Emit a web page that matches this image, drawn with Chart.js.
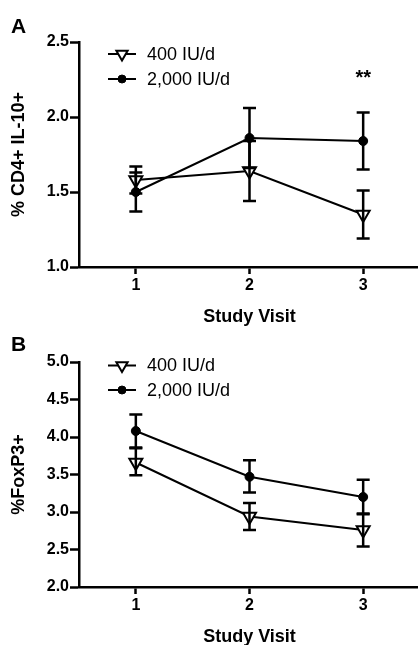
<!DOCTYPE html>
<html>
<head>
<meta charset="utf-8">
<script src="https://cdn.jsdelivr.net/npm/chart.js@4.4.1/dist/chart.umd.min.js"></script>
<style>
  html, body { margin: 0; padding: 0; background: #fff; overflow: hidden; }
  #wrap { position: relative; width: 418px; height: 645px; overflow: hidden; background: #fff; }
  canvas { position: absolute; left: 0; }
  #chartA { top: 0; }
  #chartB { top: 320px; }
  .panel { position: absolute; left: 11px; line-height: 1; font: bold 21px 'Liberation Sans', Arial, sans-serif; color: #000; }
</style>
</head>
<body>
<div id="wrap">
  <canvas id="chartA" width="420" height="330"></canvas>
  <canvas id="chartB" width="420" height="330"></canvas>
  <div class="panel" style="top:14px">A</div>
  <div class="panel" style="top:332px">B</div>
</div>
<script>
const visits = [1, 2, 3];
const seriesNames = ['400 IU/d', '2,000 IU/d'];

// panel A: % CD4+ IL-10+
const il10Dose400 = [1.58, 1.64, 1.35];
const il10Dose400Hi = [1.67, 1.84, 1.51];
const il10Dose400Lo = [1.49, 1.44, 1.19];
const il10Dose2000 = [1.50, 1.86, 1.84];
const il10Dose2000Hi = [1.63, 2.06, 2.03];
const il10Dose2000Lo = [1.37, 1.66, 1.65];
const il10Ticks = [1.0, 1.5, 2.0, 2.5];

// panel B: % FoxP3+
const foxp3Dose400 = [3.66, 2.94, 2.76];
const foxp3Dose400Hi = [3.85, 3.12, 2.97];
const foxp3Dose400Lo = [3.49, 2.76, 2.54];
const foxp3Dose2000 = [4.08, 3.47, 3.20];
const foxp3Dose2000Hi = [4.30, 3.69, 3.43];
const foxp3Dose2000Lo = [3.86, 3.26, 2.98];
const foxp3Ticks = [2.0, 2.5, 3.0, 3.5, 4.0, 4.5, 5.0];

const FONT = "'Liberation Sans', Arial, sans-serif";
Chart.defaults.font.family = FONT;
Chart.defaults.color = '#000';

// vertical error bars with caps, drawn on top of the lines
const errorBars = {
  id: 'errorBars',
  afterDatasetsDraw(chart) {
    const ctx = chart.ctx;
    const xs = chart.scales.x, ys = chart.scales.y;
    ctx.save();
    ctx.strokeStyle = '#000';
    ctx.lineWidth = 2.5;
    chart.data.datasets.forEach(ds => {
      ds.data.forEach((p, i) => {
        const x = xs.getPixelForValue(p.x);
        const top = ys.getPixelForValue(ds.errHi[i]);
        const bot = ys.getPixelForValue(ds.errLo[i]);
        ctx.beginPath();
        ctx.moveTo(x, top); ctx.lineTo(x, bot);
        ctx.moveTo(x - 6.5, top); ctx.lineTo(x + 6.5, top);
        ctx.moveTo(x - 6.5, bot); ctx.lineTo(x + 6.5, bot);
        ctx.stroke();
      });
    });
    ctx.restore();
  }
};

// legend: short line with the marker, then the label
const lineLegend = {
  id: 'lineLegend',
  afterDraw(chart, args, opts) {
    const ctx = chart.ctx;
    const area = chart.chartArea;
    ctx.save();
    chart.data.datasets.forEach((ds, i) => {
      const x0 = area.left + opts.dx;
      const y = area.top + opts.dy + i * opts.gap;
      ctx.strokeStyle = '#000';
      ctx.lineWidth = 2;
      ctx.beginPath();
      ctx.moveTo(x0, y); ctx.lineTo(x0 + 28, y);
      ctx.stroke();
      ctx.fillStyle = ds.pointBackgroundColor;
      ctx.strokeStyle = '#000';
      ctx.lineWidth = ds.pointBorderWidth;
      Chart.helpers.drawPoint(ctx, {
        pointStyle: ds.pointStyle, rotation: ds.pointRotation || 0,
        radius: opts.radius[i], borderWidth: ds.pointBorderWidth
      }, x0 + 14, y);
      ctx.fillStyle = '#000';
      ctx.font = '18px ' + FONT;
      ctx.textBaseline = 'middle';
      ctx.textAlign = 'left';
      ctx.fillText(ds.label, x0 + 39, y + 1);
    });
    ctx.restore();
  }
};

// significance stars
const sigMark = {
  id: 'sigMark',
  afterDraw(chart, args, opts) {
    if (!opts.text) return;
    const ctx = chart.ctx;
    ctx.save();
    ctx.fillStyle = '#000';
    ctx.font = 'bold 20px ' + FONT;
    ctx.textAlign = 'center';
    ctx.textBaseline = 'alphabetic';
    ctx.fillText(opts.text, chart.scales.x.getPixelForValue(opts.x), chart.scales.y.getPixelForValue(opts.y));
    ctx.restore();
  }
};

function points(vals) {
  return visits.map((v, i) => ({ x: v, y: vals[i] }));
}

function makeChart(id, cfg) {
  return new Chart(document.getElementById(id), {
    type: 'line',
    data: {
      datasets: [
        {
          label: seriesNames[0],
          data: points(cfg.low),
          errHi: cfg.lowHi, errLo: cfg.lowLo,
          borderColor: '#000', borderWidth: 2,
          pointStyle: 'triangle', pointRotation: 180, pointRadius: 7.5,
          pointBackgroundColor: '#fff', pointBorderColor: '#000', pointBorderWidth: 2,
          tension: 0, clip: false
        },
        {
          label: seriesNames[1],
          data: points(cfg.high),
          errHi: cfg.highHi, errLo: cfg.highLo,
          borderColor: '#000', borderWidth: 2,
          pointStyle: 'circle', pointRadius: 4.5,
          pointBackgroundColor: '#000', pointBorderColor: '#000', pointBorderWidth: 1,
          tension: 0, clip: false
        }
      ]
    },
    options: {
      responsive: false,
      animation: false,
      layout: { autoPadding: false, padding: { top: 42, left: 0, right: 0, bottom: 0 } },
      plugins: {
        legend: { display: false },
        tooltip: { enabled: false },
        lineLegend: cfg.legend,
        sigMark: cfg.sig || {}
      },
      scales: {
        x: {
          type: 'linear', min: 0.5, max: 3.5,
          afterBuildTicks: s => { s.ticks = visits.map(v => ({ value: v })); },
          afterFit: s => { s.height = 63; s.paddingLeft = 0; s.paddingRight = 0; },
          grid: { drawOnChartArea: false, drawTicks: true, tickLength: 7, tickWidth: 2.5, tickColor: '#000' },
          border: { display: true, color: '#000', width: 2.5 },
          ticks: { color: '#000', padding: 2, font: { size: 16, weight: 'bold' }, callback: v => String(v) },
          title: { display: true, text: 'Study Visit', color: '#000', font: { size: 18, weight: 'bold' }, padding: { top: 0, bottom: 2 } }
        },
        y: {
          min: cfg.ticks[0], max: cfg.ticks[cfg.ticks.length - 1],
          afterBuildTicks: s => { s.ticks = cfg.ticks.map(v => ({ value: v })); },
          afterFit: s => { s.width = 79; },
          grid: { drawOnChartArea: false, drawTicks: true, tickLength: 9, tickWidth: 2.5, tickColor: '#000' },
          border: { display: true, color: '#000', width: 2.5 },
          ticks: { color: '#000', padding: 1, font: { size: 16, weight: 'bold' }, callback: v => v.toFixed(1) },
          title: { display: true, text: cfg.yTitle, color: '#000', font: { size: 18, weight: 'bold' }, padding: { top: 8, bottom: 0 } }
        }
      }
    },
    plugins: [errorBars, lineLegend, sigMark]
  });
}

makeChart('chartA', {
  low: il10Dose400, lowHi: il10Dose400Hi, lowLo: il10Dose400Lo,
  high: il10Dose2000, highHi: il10Dose2000Hi, highLo: il10Dose2000Lo,
  ticks: il10Ticks, yTitle: '% CD4+ IL-10+',
  legend: { dx: 29, dy: 12, gap: 25, radius: [6.5, 4] },
  sig: { x: 3, y: 2.22, text: '**' }
});

makeChart('chartB', {
  low: foxp3Dose400, lowHi: foxp3Dose400Hi, lowLo: foxp3Dose400Lo,
  high: foxp3Dose2000, highHi: foxp3Dose2000Hi, highLo: foxp3Dose2000Lo,
  ticks: foxp3Ticks, yTitle: '%FoxP3+',
  legend: { dx: 29, dy: 3.5, gap: 24.5, radius: [6.5, 4] }
});
</script>
</body>
</html>
